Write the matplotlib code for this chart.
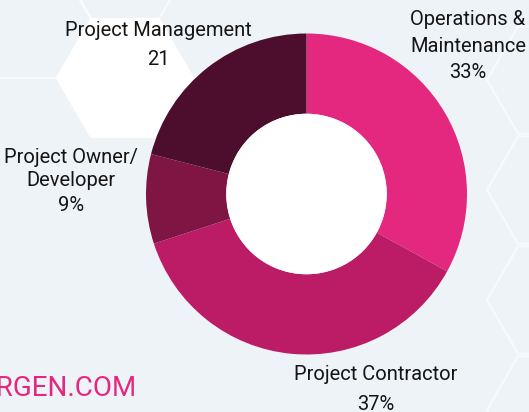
import numpy as np
import matplotlib
matplotlib.use("Agg")
import matplotlib.pyplot as plt
from matplotlib.patches import RegularPolygon, Circle

# ---- data ----
categories = ["Operations &\nMaintenance", "Project Contractor", "Project Owner/\nDeveloper", "Project Management"]
values = [33, 37, 9, 21]
value_labels = ["33%", "37%", "9%", "21"]
colors = ["#E5287F", "#BC1C65", "#7E1542", "#4C0E2C"]
watermark = "ERGEN.COM"

W, H = 529, 412
plt.rcParams['font.family'] = ['Roboto', 'DejaVu Sans']

fig = plt.figure(figsize=(W / 100, H / 100), dpi=100)
bg = "#EEF3F8"
fig.patch.set_facecolor(bg)
ax = fig.add_axes([0, 0, 1, 1])
ax.set_facecolor(bg)

def Y(y):
    return H - y

# background hexagon decoration (flat-top)
ori = np.pi / 6
ax.add_patch(RegularPolygon((125, Y(78)), 6, radius=68, orientation=ori,
                            facecolor="white", edgecolor="white", lw=1.5, zorder=0))
for (hx, hy, r) in [(125, -40, 68), (23, 19, 68),
                    (549, 80, 62), (549, 190, 62), (549, 300, 62), (549, 410, 62)]:
    ax.add_patch(RegularPolygon((hx, Y(hy)), 6, radius=r, orientation=ori,
                                facecolor="none", edgecolor="white", lw=1.5,
                                alpha=0.6, zorder=0))

# donut
cx, cy, R = 306.5, Y(194), 160.5
ax.pie(values, colors=colors, startangle=90, counterclock=False,
       center=(cx, cy), radius=R,
       wedgeprops=dict(width=R * 0.5, edgecolor="none", linewidth=0),
       frame=True)
ax.add_patch(Circle((cx, cy), R * 0.5, facecolor="white", edgecolor="none", zorder=5))

fs = 14.5
tc = "#151515"
# labels (layout positions)
ax.text(468, Y(33), categories[0], ha="center", va="center", fontsize=fs, color=tc,
        linespacing=1.5)
ax.text(468, Y(72), value_labels[0], ha="center", va="center", fontsize=fs, color=tc)

ax.text(376, Y(375), categories[1], ha="center", va="center", fontsize=fs, color=tc)
ax.text(376, Y(404), value_labels[1], ha="center", va="center", fontsize=fs, color=tc)

ax.text(71, Y(169), categories[2], ha="center", va="center", fontsize=fs, color=tc,
        linespacing=1.3)
ax.text(71, Y(205), value_labels[2], ha="center", va="center", fontsize=fs, color=tc)

ax.text(158, Y(30), categories[3], ha="center", va="center", fontsize=fs, color=tc)
ax.text(158, Y(59), value_labels[3], ha="center", va="center", fontsize=fs, color=tc)

ax.text(137, Y(389), watermark, ha="right", va="center", fontsize=20, color="#E5287F")

ax.set_xlim(0, W)
ax.set_ylim(0, H)
ax.set_aspect("equal")
ax.axis("off")

fig.savefig("out.png", dpi=100, facecolor=bg)
